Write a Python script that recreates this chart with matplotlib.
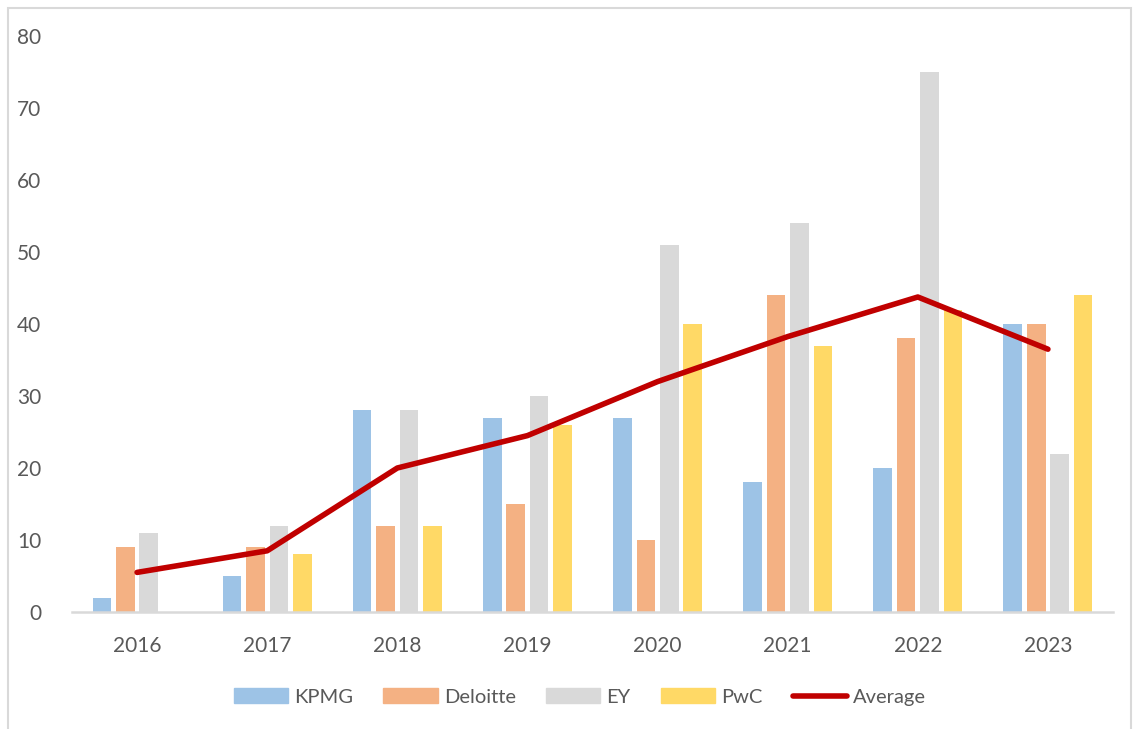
import numpy as np
import matplotlib.pyplot as plt
from matplotlib.patches import Rectangle
from matplotlib.lines import Line2D

plt.rcParams['font.family'] = ['Lato', 'DejaVu Sans']

#> Data
years = ['2016', '2017', '2018', '2019', '2020', '2021', '2022', '2023']
kpmg = [2, 5, 28, 27, 27, 18, 20, 40]
deloitte = [9, 9, 12, 15, 10, 44, 38, 40]
ey = [11, 12, 28, 30, 51, 54, 75, 22]
pwc = [0, 8, 12, 26, 40, 37, 42, 44]
average = [5.5, 8.5, 20, 24.5, 32, 38.25, 43.75, 36.5]

seriesNames = ['KPMG', 'Deloitte', 'EY', 'PwC']
seriesValues = [kpmg, deloitte, ey, pwc]
seriesColors = ['#9DC3E6', '#F4B183', '#D9D9D9', '#FFD966']
lineColor = '#C00000'
textColor = '#595959'

#> Plot
fig = plt.figure(figsize=(11.34, 7.29), dpi=100)
ax = fig.add_axes([72 / 1134, 1 - 612 / 729, (1113 - 72) / 1134, (612 - 36) / 729])

x = np.arange(len(years))
barStep = 0.18
barWidth = 0.143
for i, (name, vals, col) in enumerate(zip(seriesNames, seriesValues, seriesColors)):
    ax.bar(x + (i - 1.5) * barStep, vals, width=barWidth, color=col, label=name, zorder=2)

ax.plot(x, average, color=lineColor, linewidth=4, solid_capstyle='round', zorder=3, label='Average')

ax.set_xlim(-0.5, len(years) - 0.5)
ax.set_ylim(0, 80)
ax.set_yticks(range(0, 81, 10))
ax.set_xticks(x, years)
for side in ['left', 'right', 'top']:
    ax.spines[side].set_visible(False)
ax.spines['bottom'].set_color('#D9D9D9')
ax.spines['bottom'].set_linewidth(1.8)
ax.tick_params(axis='both', length=0, labelsize=15, labelcolor=textColor)
ax.tick_params(axis='y', pad=22)
ax.tick_params(axis='x', pad=17)

handles = [Rectangle((0, 0), 1, 1, color=c) for c in seriesColors]
handles.append(Line2D([0], [0], color=lineColor, linewidth=4, solid_capstyle='round'))
fig.legend(handles, seriesNames + ['Average'], loc='center', bbox_to_anchor=(580 / 1134, 1 - 697 / 729),
           ncol=5, frameon=False, fontsize=14.5, labelcolor=textColor, handlelength=2.7, handleheight=0.75,
           handletextpad=0.3, columnspacing=1.5)

fig.patches.append(Rectangle((8 / 1134, -0.02), (1131 - 8) / 1134, 1.02 - 8 / 729, transform=fig.transFigure,
                             fill=False, edgecolor='#D9D9D9', linewidth=1.5))

plt.savefig('out.png', dpi=100)
